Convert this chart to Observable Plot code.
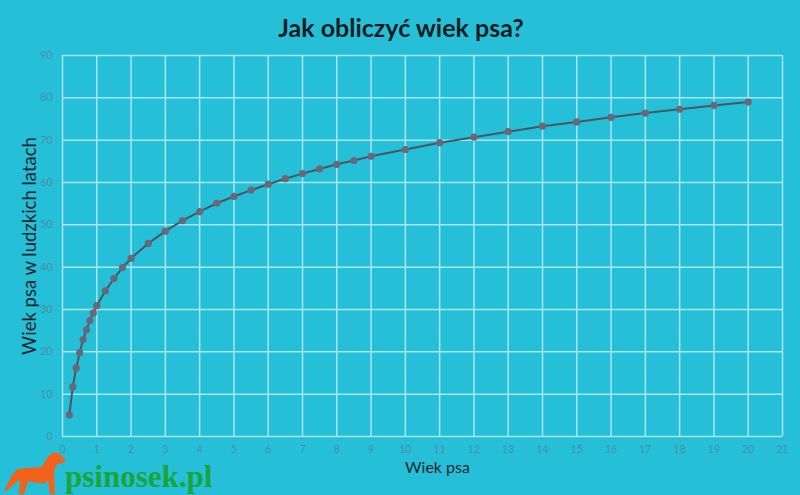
<!DOCTYPE html>
<html>
<head>
<meta charset="utf-8">
<script src="https://cdn.jsdelivr.net/npm/d3@7"></script>
<script src="https://cdn.jsdelivr.net/npm/@observablehq/plot@0.6"></script>
<style>
  html, body { margin: 0; padding: 0; }
  body { width: 800px; height: 495px; background: #25c0d7; overflow: hidden; position: relative; font-family: Lato, "Open Sans", sans-serif; }
  #title { height: 50px; line-height: 54px; text-align: center; font-weight: bold; font-size: 25px; color: #141c24; font-family: Lato, sans-serif; padding-left: 2px; }
  #chart svg { display: block; }
  #logo { position: absolute; left: 0; top: 450px; width: 240px; height: 45px; }
</style>
</head>
<body>
<div id="title">Jak obliczyć wiek psa?</div>
<div id="chart"></div>
<svg id="logo" width="240" height="45" viewBox="0 0 240 45">
  <g transform="translate(2,-1) scale(1.0,1.05)">
  <path d="M2,41 C6,32 10,23 16,19 L40,17 C44,10 47,4 53,3 C56,3 58,5 60,7 L64,11 L59,14 L55,14 L52,22 L53,43 L48,43 L46,30 L42,33 L26,31 L22,43 L17,43 L18,29 C13,32 8,38 2,41 Z" fill="#f2621a"/>
  </g>
  <text x="65" y="37" font-family="'Liberation Serif', 'DejaVu Serif', serif" font-weight="bold" font-size="31" fill="#1aa53c">psinosek.pl</text>
</svg>
<script>
const ageDog = [0.2, 0.3, 0.4, 0.5, 0.6, 0.7, 0.8, 0.9, 1, 1.25, 1.5, 1.75, 2, 2.5, 3, 3.5, 4, 4.5, 5, 5.5, 6, 6.5, 7, 7.5, 8, 8.5, 9, 10, 11, 12, 13, 14, 15, 16, 17, 18, 19, 20];
const ageHuman = [5.1, 11.7, 16.2, 19.8, 22.9, 25.2, 27.4, 29.2, 30.9, 34.4, 37.3, 39.9, 42.1, 45.6, 48.5, 51.0, 53.1, 55.1, 56.7, 58.2, 59.6, 60.9, 62.1, 63.2, 64.3, 65.2, 66.2, 67.8, 69.4, 70.7, 72.0, 73.3, 74.3, 75.4, 76.4, 77.3, 78.2, 79.0];
const xTicks = d3.range(0, 22);
const yTicks = d3.range(0, 100, 10);

const data = ageDog.map((x, i) => ({x, y: ageHuman[i]}));
const gridColor = "#a9e6ef";

const chart = Plot.plot({
  width: 800,
  height: 445,
  marginTop: 5,
  marginBottom: 59,
  marginLeft: 62,
  marginRight: 18,
  style: { background: "transparent", fontFamily: "Lato, sans-serif", fontSize: "10px", color: "#4d8ea3" },
  x: { domain: [0, 21], ticks: xTicks, label: null },
  y: { domain: [0, 90], ticks: yTicks, label: null },
  marks: [
    Plot.gridX(xTicks, { stroke: gridColor, strokeOpacity: 1, strokeWidth: 1.5 }),
    Plot.gridY(yTicks, { stroke: gridColor, strokeOpacity: 1, strokeWidth: 1.5 }),
    Plot.axisX(xTicks, { tickSize: 0, tickPadding: 9, fill: "#4d8ea3", fontSize: 10.5, label: null }),
    Plot.axisY(yTicks, { tickSize: 0, tickPadding: 10, fill: "#4d8ea3", fontSize: 10.5, label: null }),
    Plot.line(data, { x: "x", y: "y", stroke: "#4a5663", strokeWidth: 2 }),
    Plot.dot(data, { x: "x", y: "y", r: 3.6, fill: "#686878", stroke: "none" }),
    Plot.text(["Wiek psa"], { frameAnchor: "bottom", dx: 15, dy: 36, fontSize: 16, fill: "#1c2630", fontFamily: "Lato, sans-serif" }),
    Plot.text(["Wiek psa w ludzkich latach"], { frameAnchor: "left", textAnchor: "middle", dx: -32, rotate: -90, fontSize: 18.5, fill: "#1c2630", fontFamily: "Lato, sans-serif" })
  ]
});
document.getElementById("chart").appendChild(chart);
</script>
</body>
</html>
